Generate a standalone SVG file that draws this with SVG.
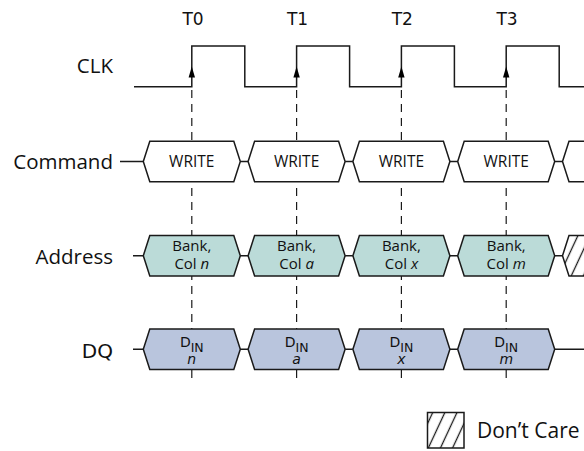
<svg xmlns="http://www.w3.org/2000/svg" width="584" height="451" viewBox="0 0 584 451">
<style>
.ln{fill:none;stroke:#1a1a1a;stroke-width:1.5}
.dash{fill:none;stroke:#1a1a1a;stroke-width:1.2;stroke-dasharray:8 6}
.hex{stroke:#1a1a1a;stroke-width:1.5}
.cmd{fill:#fff}
.addr{fill:#bbdbd8}
.dq{fill:#b9c5dd}
.lbl{font-family:"Open Sans","Liberation Sans",sans-serif;font-size:20.5px;fill:#111;text-anchor:end}
.tl{font-family:"DejaVu Sans",sans-serif;font-size:17px;fill:#111;text-anchor:middle}
.in{font-family:"Open Sans","Liberation Sans",sans-serif;font-size:15.5px;fill:#111;text-anchor:middle}
.bk{font-family:"Open Sans","Liberation Sans",sans-serif;font-size:15px;fill:#111;text-anchor:middle}
.d{font-family:"DejaVu Sans",sans-serif;font-size:14px;fill:#111;text-anchor:middle}
.it{font-style:italic}
</style>
<defs>
<path id="hx" d="M-48.5,0 L-42,-20.3 L42,-20.3 L48.5,0 L42,20.3 L-42,20.3 Z"/>
<path id="arr" d="M0,-11 L3.2,0 L-3.2,0 Z" fill="#000"/>
<pattern id="hatch" patternUnits="userSpaceOnUse" width="11" height="11" patternTransform="rotate(25)">
<rect width="11" height="11" fill="#fff"/>
<line x1="5.5" y1="-1" x2="5.5" y2="12" stroke="#1a1a1a" stroke-width="1.3"/>
</pattern>
</defs>

<g id="labels">
<text class="tl" x="193" y="25">T0</text>
<text class="tl" x="297.5" y="25">T1</text>
<text class="tl" x="402.3" y="25">T2</text>
<text class="tl" x="507.1" y="25">T3</text>
<text class="lbl" x="113" y="73">CLK</text>
<text class="lbl" x="113" y="168.5">Command</text>
<text class="lbl" x="113" y="263.5">Address</text>
<text class="lbl" x="113" y="358" style="font-family:'DejaVu Sans',sans-serif;font-size:20px">DQ</text>
</g>

<g id="connectors">
<line class="dash" x1="191.8" y1="90" x2="191.8" y2="378"/>
<line class="dash" x1="296.6" y1="90" x2="296.6" y2="378"/>
<line class="dash" x1="401.4" y1="90" x2="401.4" y2="378"/>
<line class="dash" x1="506.2" y1="90" x2="506.2" y2="378"/>
<path class="ln" d="M120,161.5 H143.3 M240.3,161.5 H248.1 M345.1,161.5 H352.9 M449.9,161.5 H457.7 M554.7,161.5 H562.5"/>
<path class="ln" d="M133,255.7 H143.3 M240.3,255.7 H248.1 M345.1,255.7 H352.9 M449.9,255.7 H457.7 M554.7,255.7 H562.5"/>
<path class="ln" d="M133,349.2 H143.3 M240.3,349.2 H248.1 M345.1,349.2 H352.9 M449.9,349.2 H457.7 M554.7,349.2 H584"/>
</g>

<g id="clk">
<path class="ln" d="M134,86.7 H191.8 V46 H244.8 V86.7 H296.6 V46 H349.6 V86.7 H401.4 V46 H454.4 V86.7 H506.2 V46 H559.2 V86.7 H584"/>
<use href="#arr" x="191.8" y="77.5"/>
<use href="#arr" x="296.6" y="77.5"/>
<use href="#arr" x="401.4" y="77.5"/>
<use href="#arr" x="506.2" y="77.5"/>
</g>

<g id="command">
<use href="#hx" class="hex cmd" x="191.8" y="161.5"/>
<use href="#hx" class="hex cmd" x="296.6" y="161.5"/>
<use href="#hx" class="hex cmd" x="401.4" y="161.5"/>
<use href="#hx" class="hex cmd" x="506.2" y="161.5"/>
<use href="#hx" class="hex cmd" x="611" y="161.5"/>
<text class="in" x="191.8" y="166.5">WRITE</text>
<text class="in" x="296.6" y="166.5">WRITE</text>
<text class="in" x="401.4" y="166.5">WRITE</text>
<text class="in" x="506.2" y="166.5">WRITE</text>
</g>

<g id="address">
<use href="#hx" class="hex addr" x="191.8" y="255.7"/>
<use href="#hx" class="hex addr" x="296.6" y="255.7"/>
<use href="#hx" class="hex addr" x="401.4" y="255.7"/>
<use href="#hx" class="hex addr" x="506.2" y="255.7"/>
<use href="#hx" class="hex" fill="url(#hatch)" x="611" y="255.7"/>
<text class="bk" x="191.8" y="251">Bank,</text>
<text class="bk" x="191.8" y="268.5">Col <tspan class="it">n</tspan></text>
<text class="bk" x="296.6" y="251">Bank,</text>
<text class="bk" x="296.6" y="268.5">Col <tspan class="it">a</tspan></text>
<text class="bk" x="401.4" y="251">Bank,</text>
<text class="bk" x="401.4" y="268.5">Col <tspan class="it">x</tspan></text>
<text class="bk" x="506.2" y="251">Bank,</text>
<text class="bk" x="506.2" y="268.5">Col <tspan class="it">m</tspan></text>
</g>

<g id="dq">
<use href="#hx" class="hex dq" x="191.8" y="349.2"/>
<use href="#hx" class="hex dq" x="296.6" y="349.2"/>
<use href="#hx" class="hex dq" x="401.4" y="349.2"/>
<use href="#hx" class="hex dq" x="506.2" y="349.2"/>
<text class="d" x="191.8" y="347.3">D<tspan dy="4.5" font-size="12.5">IN</tspan></text>
<text class="d it" x="191.8" y="364" font-size="13">n</text>
<text class="d" x="296.6" y="347.3">D<tspan dy="4.5" font-size="12.5">IN</tspan></text>
<text class="d it" x="296.6" y="364" font-size="13">a</text>
<text class="d" x="401.4" y="347.3">D<tspan dy="4.5" font-size="12.5">IN</tspan></text>
<text class="d it" x="401.4" y="364" font-size="13">x</text>
<text class="d" x="506.2" y="347.3">D<tspan dy="4.5" font-size="12.5">IN</tspan></text>
<text class="d it" x="506.2" y="364" font-size="13">m</text>
</g>

<g id="legend">
<rect x="427.5" y="412.5" width="36.5" height="35.5" fill="url(#hatch)" stroke="#1a1a1a" stroke-width="1.5"/>
<text class="lbl" x="477" y="438" style="text-anchor:start;font-size:21px">Don’t Care</text>
</g>
</svg>
